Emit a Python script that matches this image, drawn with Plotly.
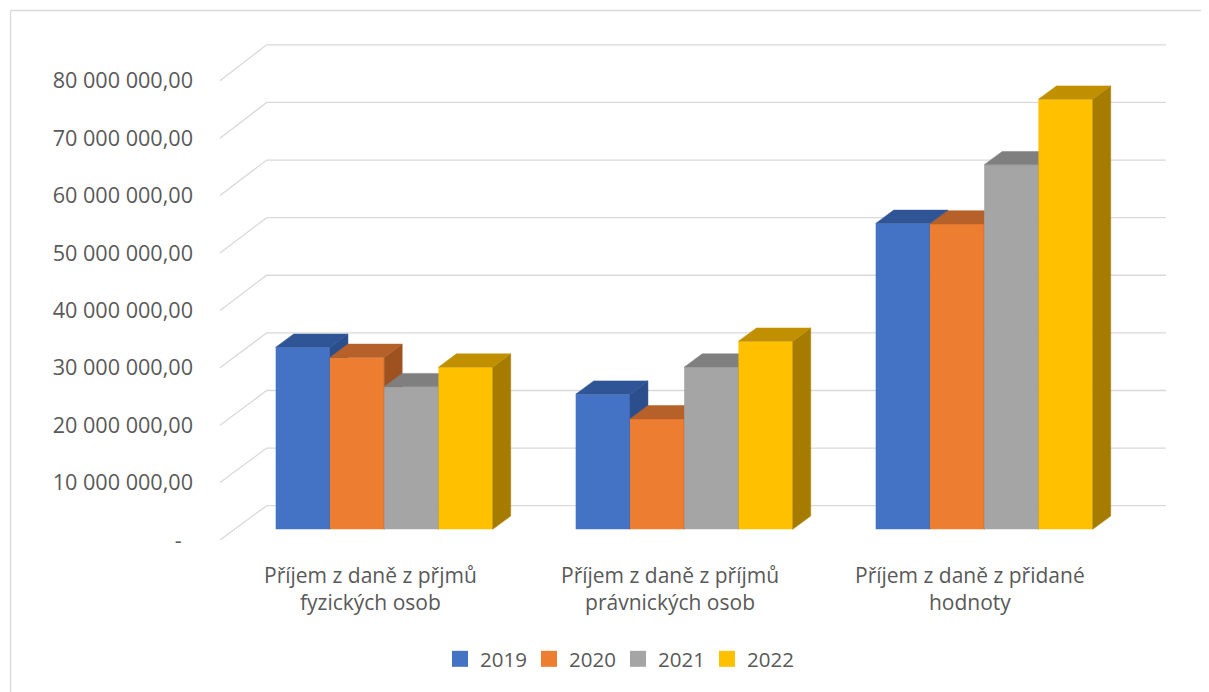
import plotly.graph_objects as go

# ---------------- data ----------------
categories = [
    "Příjem z daně z přjmů<br>fyzických osob",
    "Příjem z daně z příjmů<br>právnických osob",
    "Příjem z daně z přidané<br>hodnoty",
]
years = ["2019", "2020", "2021", "2022"]
v2019 = [31.65e6, 23.5e6, 53.2e6]
v2020 = [29.9e6, 19.2e6, 53.1e6]
v2021 = [24.8e6, 28.2e6, 63.4e6]
v2022 = [28.2e6, 32.7e6, 74.8e6]
series = [v2019, v2020, v2021, v2022]
tick_values = [0, 10e6, 20e6, 30e6, 40e6, 50e6, 60e6, 70e6, 80e6]
tick_labels = ["-\u00a0\u00a0", "10 000 000,00", "20 000 000,00", "30 000 000,00",
               "40 000 000,00", "50 000 000,00", "60 000 000,00", "70 000 000,00",
               "80 000 000,00"]

# ---------------- styles ----------------
front_colors = ["#4472C4", "#ED7D31", "#A5A5A5", "#FFC000"]
top_colors = ["#2F5597", "#B6602A", "#7F7F7F", "#C09000"]
side_colors = ["#2B4E8C", "#9E5220", "#6E6E6E", "#A67C00"]
text_color = "#595959"
grid_color = "#D9D9D9"
FONT = "Open Sans"

# ---------------- geometry (reference pixels, page has an 8px body margin) ----------------
OFF = 8
W, H = 1209 - OFF, 692 - OFF


def P(v):
    return v - OFF


L, R, T, B = P(200), P(1180), P(30), P(560)
CAT0, CATPX = P(384.2), 300.0        # pixel of first category, px per category
FRONT0, FRONTPX = P(540.0), 5.74     # front wall: pixel of zero, px per million
BAR0, BARPX = P(529.3), 5.75         # bar plane: pixel of zero, px per million

x_range = [(L - CAT0) / CATPX, (R - CAT0) / CATPX]
y_front_range = [(FRONT0 - B) / FRONTPX * 1e6, (FRONT0 - T) / FRONTPX * 1e6]
y_bar_range = [(BAR0 - B) / BARPX * 1e6, (BAR0 - T) / BARPX * 1e6]

wu = 54.25 / CATPX                  # bar width in category units
dx = 18.0 / CATPX                   # depth offset x
dy = 13.3 / BARPX * 1e6             # depth offset y

xf = (P(220.0) - CAT0) / CATPX      # gridline front-left
xb = (P(266.7) - CAT0) / CATPX      # gridline back-left
xe = (P(1166.0) - CAT0) / CATPX     # gridline back-right


def px2paper_x(p):
    return (P(p) - L) / (R - L)


def px2paper_y(p):
    return (B - P(p)) / (B - T)


fig = go.Figure()

# back wall gridlines (main subplot, front-wall coordinates)
gx, gy = [], []
for v in tick_values:
    off_px = 34.3 + 1.7 * v / tick_values[-1]
    dv = off_px / FRONTPX * 1e6
    gx += [xf, xb, xe, None]
    gy += [v, v + dv, v + dv, None]
fig.add_trace(go.Scatter(x=gx, y=gy, mode="lines", line=dict(color=grid_color, width=1.3),
                         hoverinfo="skip", showlegend=False))

# legend entries
for name, c in zip(years, front_colors):
    fig.add_trace(go.Scatter(x=[None], y=[None], mode="markers", name=name,
                             marker=dict(symbol="square", size=16, color=c)))

# 3D bars: one overlaid subplot per series so later series paint on top
xpos = list(range(len(categories)))
for k, vals in enumerate(series):
    xa, ya = f"x{k + 2}", f"y{k + 2}"
    fig.add_trace(go.Bar(x=xpos, y=vals, width=wu, offset=-2 * wu + k * wu,
                         marker=dict(color=front_colors[k], line=dict(width=0)),
                         xaxis=xa, yaxis=ya, showlegend=False, hoverinfo="skip"))
    tx, ty, sx, sy = [], [], [], []
    for i, h in zip(xpos, vals):
        xl = i - 2 * wu + k * wu
        xr = xl + wu
        tx += [xl, xl + dx, xr + dx, xr, xl, None]
        ty += [h, h + dy, h + dy, h, h, None]
        sx += [xr, xr + dx, xr + dx, xr, xr, None]
        sy += [0, dy, h + dy, h, 0, None]
    fig.add_trace(go.Scatter(x=sx, y=sy, mode="lines", fill="toself",
                             fillcolor=side_colors[k], line=dict(color=side_colors[k], width=0.5),
                             xaxis=xa, yaxis=ya, showlegend=False, hoverinfo="skip"))
    fig.add_trace(go.Scatter(x=tx, y=ty, mode="lines", fill="toself",
                             fillcolor=top_colors[k], line=dict(color=top_colors[k], width=0.5),
                             xaxis=xa, yaxis=ya, showlegend=False, hoverinfo="skip"))

layout_axes = {}
for k in range(len(series)):
    layout_axes[f"xaxis{k + 2}"] = dict(overlaying="x", range=x_range, visible=False, fixedrange=True)
    layout_axes[f"yaxis{k + 2}"] = dict(overlaying="y", range=y_bar_range, visible=False, fixedrange=True)

# category labels
annotations = []
for i, c in enumerate(categories):
    annotations.append(dict(x=i, xref="x", y=px2paper_y(588.5), yref="paper",
                            text=c, showarrow=False, xshift=-14.2, yanchor="middle",
                            font=dict(family=FONT, size=21, color=text_color)))

shapes = [
    dict(type="line", xref="paper", yref="paper", x0=px2paper_x(10.5), x1=px2paper_x(10.5),
         y0=px2paper_y(10.5), y1=px2paper_y(700), line=dict(color=grid_color, width=1.3)),
    dict(type="line", xref="paper", yref="paper", x0=px2paper_x(10.5), x1=px2paper_x(1215),
         y0=px2paper_y(10.5), y1=px2paper_y(10.5), line=dict(color=grid_color, width=1.3)),
]

fig.update_layout(
    width=W, height=H,
    margin=dict(l=L, r=W - R, t=T, b=H - B),
    paper_bgcolor="white", plot_bgcolor="white",
    font=dict(family=FONT, size=21, color=text_color),
    xaxis=dict(range=x_range, visible=False, fixedrange=True),
    yaxis=dict(range=y_front_range, tickvals=tick_values, ticktext=tick_labels,
               showgrid=False, zeroline=False, showline=False, ticks="",
               ticklabelstandoff=6, fixedrange=True,
               tickfont=dict(family=FONT, size=21.6, color=text_color)),
    showlegend=True,
    legend=dict(orientation="h", xref="container", yref="container",
                x=P(440) / W, xanchor="left", y=1 - P(659) / H, yanchor="middle",
                entrywidth=44, entrywidthmode="pixels",
                font=dict(family=FONT, size=20.5, color=text_color),
                itemclick=False, itemdoubleclick=False),
    annotations=annotations,
    shapes=shapes,
    hovermode=False,
    **layout_axes,
)

fig.write_html("out.html", config={"displayModeBar": False})
